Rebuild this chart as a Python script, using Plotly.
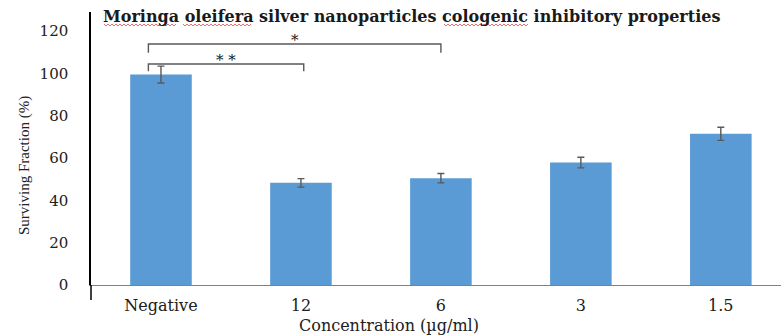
import plotly.graph_objects as go

# Colony-forming survival data
categories = ["Negative", "12", "6", "3", "1.5"]
surviving = [99.5, 48.3, 50.5, 57.9, 71.5]
sem = [4.0, 2.0, 2.2, 2.5, 3.1]
y_ticks = [0, 20, 40, 60, 80, 100, 120]

# Significance brackets: (start, end, height, leg depth, label)
brackets = [
    (-0.09, 1.02, 104.5, 3.4, "* *"),
    (-0.09, 2.0, 114.0, 4.2, "*"),
]

BAR = "#5B9BD5"
SERIF = "DejaVu Serif"
W, H = 781, 335
L, T, B = 91, 12, 50
PW, PH = W - L, H - T - B


def squiggle(x0, x1, y, step=2.0, amp=1.0):
    """Wavy proofing underline between two pixel x positions at pixel y."""
    pts = []
    x, k = x0, 0
    while x <= x1:
        yy = y + (amp if k % 2 else -amp)
        pts.append(((x - L) / PW, 1 - (yy - T) / PH))
        x += step
        k += 1
    path = "M " + " L ".join(f"{px:.5f},{py:.5f}" for px, py in pts)
    return dict(type="path", xref="paper", yref="paper", path=path,
                line=dict(color="#e06060", width=0.9))


fig = go.Figure()
fig.add_trace(go.Bar(
    x=list(range(len(categories))),
    y=surviving,
    marker=dict(color=BAR, line=dict(width=0)),
    width=0.44,
    error_y=dict(type="data", array=sem, visible=True,
                 color="#595959", thickness=1.4, width=3.5),
    hoverinfo="skip",
))

shapes = []
annotations = []
for x0, x1, h, leg, label in brackets:
    shapes.append(dict(
        type="path", xref="x", yref="y",
        path=f"M {x0},{h - leg} L {x0},{h} L {x1},{h} L {x1},{h - leg}",
        line=dict(color="#595959", width=1.4),
    ))
    annotations.append(dict(
        x=(x0 + x1) / 2, y=h, xref="x", yref="y", text=label,
        showarrow=False, yanchor="bottom", yshift=-7,
        font=dict(family=SERIF, size=15, color="#202020"),
    ))

# vertical axis line continues a little below the zero line
shapes.append(dict(type="line", xref="paper", yref="paper",
                   x0=0, x1=0, y0=0, y1=-15 / PH,
                   line=dict(color="#000000", width=1.5)))

# proofing underlines beneath the unrecognised title words
for a, b in [(104, 177), (183, 251), (444, 529)]:
    shapes.append(squiggle(a, b, 25))

annotations += [
    dict(text="<b>Moringa oleifera silver nanoparticles cologenic inhibitory properties</b>",
         xref="paper", yref="paper", x=10 / PW, y=1.0, xanchor="left", yanchor="middle",
         yshift=-4, showarrow=False,
         font=dict(family=SERIF, size=16, color="#1a1a1a")),
    dict(text="Surviving Fraction (%)", xref="paper", yref="y",
         x=0, xshift=-77, y=56.5, textangle=-90, showarrow=False,
         font=dict(family="Liberation Serif", size=15, color="#202020")),
    dict(text="Concentration (µg/ml)", xref="x", yref="paper",
         x=1.63, y=0, yshift=-40, showarrow=False, yanchor="middle",
         font=dict(family=SERIF, size=16, color="#202020")),
]

fig.update_layout(
    width=W, height=H,
    margin=dict(l=L, r=0, t=T, b=B),
    paper_bgcolor="white", plot_bgcolor="white",
    showlegend=False,
    bargap=0.56,
    shapes=shapes,
    annotations=annotations,
    xaxis=dict(
        range=[-0.5, 4.43],
        tickmode="array", tickvals=list(range(len(categories))), ticktext=categories,
        showline=True, linecolor="#808080", linewidth=1.2,
        showgrid=False, zeroline=False, ticks="",
        ticklabelstandoff=6,
        tickfont=dict(family=SERIF, size=16, color="#202020"),
    ),
    yaxis=dict(
        range=[0, 129.1],
        tickmode="array", tickvals=y_ticks,
        showline=True, linecolor="#000000", linewidth=1.5,
        showgrid=False, zeroline=False, ticks="",
        ticklabelstandoff=18,
        tickfont=dict(family=SERIF, size=15, color="#202020"),
    ),
)

fig.write_html("out.html")
